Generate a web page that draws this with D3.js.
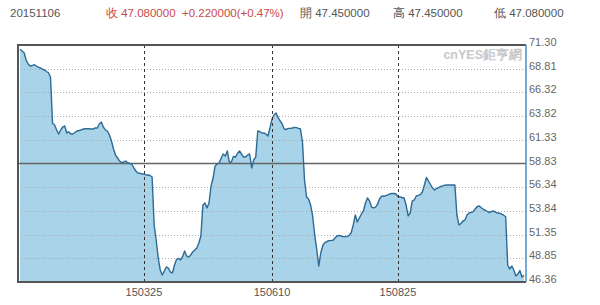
<!DOCTYPE html>
<html>
<head>
<meta charset="utf-8">
<script src="https://cdn.jsdelivr.net/npm/d3@7"></script>
<style>
  body { margin: 0; background: #fff; }
  svg { display: block; font-family: "Liberation Sans", Arial, sans-serif; }
</style>
</head>
<body>
<svg id="chart" width="600" height="305"></svg>
<script>
// daily closes, trading day 1..249
var closes = [
  70.85, 70.67, 70.49, 69.72, 69.30, 69.09, 69.14, 69.23, 69.09, 68.98,
  68.88, 68.77, 68.67, 68.51, 68.38, 67.93, 63.06, 62.88, 62.36, 61.93,
  62.36, 62.67, 62.78, 62.04, 62.15, 61.93, 61.93, 62.09, 62.25, 62.30,
  62.36, 62.43, 62.49, 62.49, 62.49, 62.46, 62.46, 62.57, 62.57, 62.99,
  63.20, 62.67, 62.36, 62.25, 61.83, 61.20, 60.36, 59.72, 59.41, 59.09,
  58.91, 58.99, 59.09, 58.91, 58.83, 58.78, 58.36, 58.04, 57.83, 57.80,
  57.73, 57.73, 57.62, 57.62, 57.57, 57.41, 52.36, 50.78, 48.89, 47.62,
  47.10, 47.52, 47.94, 47.83, 47.41, 47.31, 48.15, 48.73, 48.85, 48.68,
  49.02, 49.62, 49.10, 48.99, 49.20, 49.52, 49.73, 49.94, 50.46, 51.20,
  54.46, 54.67, 54.15, 54.67, 56.46, 57.30, 58.57, 58.78, 58.88, 59.41,
  59.83, 59.62, 60.15, 58.99, 58.99, 59.57, 59.51, 59.88, 60.15, 59.83,
  59.51, 59.51, 59.72, 59.83, 58.36, 59.20, 59.51, 62.25, 62.20, 62.04,
  62.04, 61.93, 61.72, 62.57, 63.51, 63.93, 64.14, 63.67, 63.30, 62.99,
  62.46, 62.41, 62.53, 62.53, 62.57, 62.62, 62.60, 62.53, 62.46, 61.09,
  57.09, 55.31, 55.09, 54.46, 53.31, 51.31, 49.83, 48.04, 49.41, 50.20,
  50.50, 50.62, 50.71, 50.71, 50.75, 50.99, 51.20, 51.27, 51.20, 51.13,
  51.13, 51.15, 51.27, 51.57, 52.36, 53.41, 52.67, 53.10, 53.52, 53.83,
  54.67, 55.20, 54.88, 54.25, 54.15, 54.25, 54.57, 55.15, 55.38, 55.41,
  55.44, 55.52, 55.62, 55.69, 55.67, 55.62, 55.36, 55.31, 55.25, 55.20,
  54.46, 53.31, 53.62, 54.88, 54.99, 55.41, 55.48, 55.55, 55.83, 56.57,
  57.36, 56.99, 56.62, 56.25, 56.04, 56.20, 56.30, 56.41, 56.48, 56.54,
  56.57, 56.57, 56.57, 56.57, 56.57, 53.41, 52.36, 52.52, 52.78, 52.88,
  53.41, 53.62, 53.69, 53.76, 54.04, 54.31, 54.36, 54.18, 54.01, 53.91,
  53.78, 53.67, 53.78, 53.83, 53.71, 53.62, 53.60, 53.50, 53.39, 53.23,
  48.15, 47.73, 48.04, 47.62, 46.99, 47.20, 47.57, 46.89, 47.08
];

var yTicks = [71.30, 68.81, 66.32, 63.82, 61.33, 58.83, 56.34, 53.84, 51.35, 48.85, 46.36];
var refLine = 58.83;

var xTickDays = [62, 125, 187];
var xTickLabels = ["150325", "150610", "150825"];

var headDate = "20151106";
var headClose = "收 47.080000";
var headChange = "+0.220000(+0.47%)";
var headOpen = "開 47.450000";
var headHigh = "高 47.450000";
var headLow = "低 47.080000";

var svg = d3.select("#chart");
var L = 18, R = 526, T = 45, B = 282;

var x = d3.scaleLinear().domain([0, 250]).range([L, R]);
var y = d3.scaleLinear().domain([d3.min(yTicks), d3.max(yTicks)]).range([B, T]);

var pts = closes.map(function(v, i){ return {d: i + 1, v: v}; });

// header
var head = svg.append("g").attr("font-size", 11.5);
head.append("text").attr("x", 10).attr("y", 17).attr("fill", "#555").text(headDate);
head.append("text").attr("x", 106).attr("y", 17).attr("fill", "#c94848").text(headClose);
head.append("text").attr("x", 182).attr("y", 17).attr("fill", "#c94848").text(headChange);
head.append("text").attr("x", 300).attr("y", 17).attr("fill", "#555").text(headOpen);
head.append("text").attr("x", 393).attr("y", 17).attr("fill", "#555").text(headHigh);
head.append("text").attr("x", 494).attr("y", 17).attr("fill", "#555").text(headLow);

// area + line
svg.append("path")
  .datum(pts)
  .attr("fill", "#a8d3e8")
  .attr("d", d3.area()
    .x(function(p){ return x(p.d); })
    .y0(B)
    .y1(function(p){ return y(p.v); }));

// grid
svg.append("g").selectAll("line")
  .data(yTicks.filter(function(t){ return t !== refLine && t !== yTicks[0] && t !== yTicks[yTicks.length - 1]; }))
  .join("line")
  .attr("x1", L).attr("x2", R)
  .attr("y1", function(t){ return Math.round(y(t)) + 0.5; })
  .attr("y2", function(t){ return Math.round(y(t)) + 0.5; })
  .attr("stroke", "#a9a9a9")
  .attr("stroke-dasharray", "1,2");

svg.append("line")
  .attr("x1", L).attr("x2", R)
  .attr("y1", y(refLine)).attr("y2", y(refLine))
  .attr("stroke", "#666")
  .attr("stroke-width", 1.5);

svg.append("path")
  .datum(pts)
  .attr("fill", "none")
  .attr("stroke", "#2d6a96")
  .attr("stroke-width", 1.4)
  .attr("stroke-linejoin", "round")
  .attr("d", d3.line()
    .x(function(p){ return x(p.d); })
    .y(function(p){ return y(p.v); }));

svg.append("g").selectAll("line")
  .data(xTickDays)
  .join("line")
  .attr("x1", function(d){ return Math.round(x(d)) + 0.5; })
  .attr("x2", function(d){ return Math.round(x(d)) + 0.5; })
  .attr("y1", T).attr("y2", B)
  .attr("stroke", "#333")
  .attr("stroke-dasharray", "3,3");

// frame
svg.append("path")
  .attr("d", "M" + R + "," + T + "H" + L + "V" + B + "H" + R)
  .attr("fill", "none")
  .attr("stroke", "#555")
  .attr("stroke-width", 2);
svg.append("line")
  .attr("x1", R).attr("x2", R).attr("y1", T).attr("y2", B)
  .attr("stroke", "#3f8fc6")
  .attr("stroke-width", 1.5);

// watermark
svg.append("text")
  .attr("x", 522).attr("y", 59)
  .attr("text-anchor", "end")
  .attr("font-size", 12.5)
  .attr("font-weight", "bold")
  .attr("fill", "#c8c8c8")
  .text("cnYES鉅亨網");

// y labels
svg.append("g").attr("font-size", 11).attr("fill", "#666")
  .selectAll("text")
  .data(yTicks)
  .join("text")
  .attr("x", 529)
  .attr("y", function(t){ return y(t) + 1; })
  .text(function(t){ return t.toFixed(2); });

// x labels
svg.append("g").attr("font-size", 11).attr("fill", "#555")
  .selectAll("text")
  .data(xTickDays)
  .join("text")
  .attr("x", function(d){ return x(d); })
  .attr("y", 296)
  .attr("text-anchor", "middle")
  .text(function(d, i){ return xTickLabels[i]; });
</script>
</body>
</html>
